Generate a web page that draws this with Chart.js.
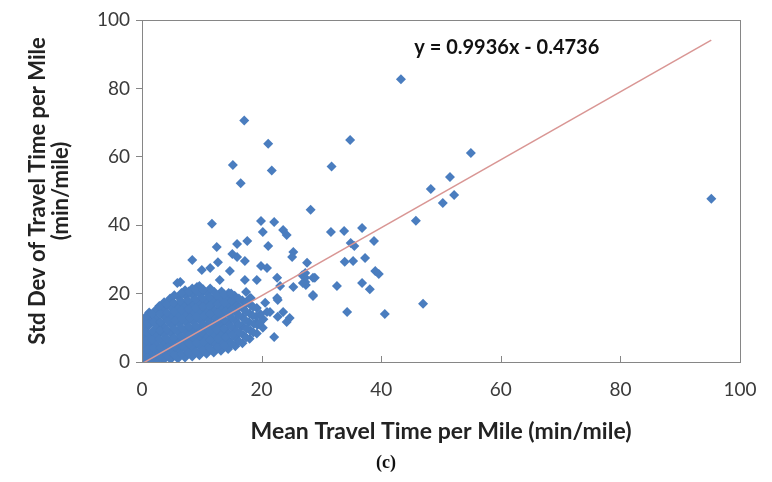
<!DOCTYPE html>
<html lang="en">
<head>
  <meta charset="UTF-8" />
  <title>Std Dev vs Mean Travel Time per Mile</title>
  <script src="https://cdn.jsdelivr.net/npm/chart.js"></script>
  <style>
    body {
      margin: 0;
      background: #fff;
    }
    #wrap {
      position: relative;
      width: 772px;
      height: 482px;
    }
    #caption {
      position: absolute;
      left: 0;
      width: 772px;
      top: 452px;
      text-align: center;
      font: bold 18px "Liberation Serif", serif;
      color: #111;
    }
  </style>
</head>
<body>
  <div id="wrap">
    <canvas id="scatterChart" width="772" height="482"></canvas>
    <div id="caption">(c)</div>
  </div>

  <script>
    // mean travel time per mile (min/mile)
    const meanTime = [
      // sparse outliers
      43.3, 17.1, 21.1, 34.8, 15.2, 21.7, 31.7, 16.5, 55.0, 51.5, 48.3, 52.2, 95.2,
      28.2, 50.3, 45.8, 31.6, 33.8, 36.8, 34.9, 35.5, 38.8, 27.6, 33.9, 35.3, 37.3,
      39.0, 39.6, 26.8, 27.3, 28.9, 27.4, 32.6, 36.8, 38.1, 28.6, 34.3, 40.6, 47.0,
      // fringe of the cluster
      11.7, 19.9, 22.1, 20.2, 23.6, 24.2, 17.6, 12.5, 15.9, 21.1, 25.3, 15.1, 15.9,
      17.2, 25.1, 8.4, 12.7, 11.4, 10.0, 19.9, 20.9, 14.7, 13.0, 17.2, 19.2, 22.6,
      27.3, 28.6, 27.3, 5.9, 9.2, 23.1, 25.3, 26.9, 17.4, 18.2, 28.6, 20.6, 22.6,
      20.9, 22.7, 24.7, 23.6, 22.1, 19.2, 3.3, 1.7, 6.4, 22.7, 24.2, 21.4,
      // dense cluster near the origin
      0.3, 0.4, 0.2, 0.5, 0.3, 0.4,
      1.2, 1.1, 1.3, 1.2, 1.0, 1.3, 1.2,
      2.4, 2.5, 2.3, 2.4, 2.6, 2.4, 2.3,
      3.6, 3.5, 3.7, 3.6, 3.5, 3.8, 3.6, 3.7,
      4.8, 4.9, 4.7, 4.8, 5.0, 4.8, 4.9, 4.7,
      6.0, 6.1, 5.9, 6.0, 6.2, 6.0, 5.9, 6.1,
      7.2, 7.3, 7.1, 7.2, 7.4, 7.2, 7.1, 7.3, 7.2,
      8.4, 8.5, 8.3, 8.4, 8.6, 8.4, 8.3, 8.5, 8.4,
      9.6, 9.7, 9.5, 9.6, 9.8, 9.6, 9.5, 9.7, 9.6,
      10.8, 10.9, 10.7, 10.8, 11.0, 10.8, 10.7, 10.9,
      12.0, 12.1, 11.9, 12.0, 12.2, 12.0, 11.9, 12.1,
      13.2, 13.3, 13.1, 13.2, 13.4, 13.2, 13.1, 13.3,
      14.4, 14.5, 14.3, 14.4, 14.6, 14.4, 14.3, 14.5,
      15.6, 15.7, 15.5, 15.6, 15.8, 15.6, 15.5,
      16.8, 16.9, 16.7, 16.8, 17.0, 16.8,
      18.0, 18.1, 17.9, 18.0, 18.2, 18.0,
      19.2, 19.3, 19.1, 19.2,
      20.2, 20.3,
      // cluster, points lying between the ones above
      0.8, 0.9, 0.7, 0.8, 0.9, 0.8,
      1.8, 1.9, 1.7, 1.8, 1.9, 1.8,
      3.0, 3.1, 2.9, 3.0, 3.1, 3.0, 2.9,
      4.2, 4.3, 4.1, 4.2, 4.3, 4.2, 4.1,
      5.4, 5.5, 5.3, 5.4, 5.5, 5.4, 5.3, 5.4,
      6.6, 6.7, 6.5, 6.6, 6.7, 6.6, 6.5, 6.6,
      7.8, 7.9, 7.7, 7.8, 7.9, 7.8, 7.7, 7.8,
      9.0, 9.1, 8.9, 9.0, 9.1, 9.0, 8.9, 9.0,
      10.2, 10.3, 10.1, 10.2, 10.3, 10.2, 10.1, 10.2,
      11.4, 11.5, 11.3, 11.4, 11.5, 11.4, 11.3, 11.4,
      12.6, 12.7, 12.5, 12.6, 12.7, 12.6, 12.5,
      13.8, 13.9, 13.7, 13.8, 13.9, 13.8, 13.7,
      15.0, 15.1, 14.9, 15.0, 15.1, 15.0, 14.9,
      16.2, 16.3, 16.1, 16.2, 16.3, 16.2,
      17.4, 17.5, 17.3, 17.4, 17.5,
      18.6, 18.7, 18.5, 18.6,
      19.7, 19.8
    ];

    // std dev of travel time per mile (min/mile), same order as meanTime
    const stdDev = [
      82.7, 70.6, 63.8, 64.9, 57.6, 56.0, 57.2, 52.3, 61.1, 54.1, 50.6, 48.8, 47.7,
      44.5, 46.5, 41.3, 38.0, 38.3, 39.2, 34.8, 33.9, 35.4, 29.0, 29.3, 29.5, 30.4,
      26.6, 25.7, 25.4, 24.6, 24.6, 22.5, 22.2, 23.1, 21.3, 19.3, 14.6, 14.0, 17.0,
      40.4, 41.2, 40.9, 38.0, 38.6, 37.1, 35.4, 33.6, 34.5, 33.9, 32.2, 31.6, 30.7,
      29.5, 30.7, 29.8, 29.2, 27.5, 26.9, 28.1, 27.5, 26.6, 24.0, 24.0, 24.0, 24.6,
      26.0, 24.6, 23.4, 23.1, 21.9, 22.2, 21.9, 23.1, 20.5, 18.7, 19.6, 17.3, 18.7,
      14.6, 13.2, 12.9, 14.6, 7.3, 11.4, 16.1, 13.2, 23.4, 18.1, 11.7, 14.6,
      0.2, 2.5, 5.0, 7.5, 10.0, 12.5,
      0.5, 3.0, 5.5, 8.0, 10.5, 13.0, 14.5,
      0.3, 2.8, 5.2, 7.7, 10.2, 12.6, 15.2,
      0.6, 3.1, 5.6, 8.2, 10.7, 13.2, 15.8, 17.5,
      0.8, 3.3, 5.8, 8.4, 10.9, 13.5, 16.0, 18.6,
      1.0, 3.5, 6.1, 8.6, 11.2, 13.7, 16.3, 19.0,
      1.3, 3.9, 6.4, 9.0, 11.5, 14.1, 16.6, 19.4, 21.0,
      1.6, 4.2, 6.7, 9.3, 11.8, 14.4, 16.9, 19.5, 21.5,
      2.0, 4.5, 7.1, 9.6, 12.1, 14.7, 17.2, 19.8, 22.2,
      2.4, 4.9, 7.4, 10.0, 12.5, 15.0, 17.6, 20.2,
      2.8, 5.3, 7.8, 10.4, 12.9, 15.4, 18.0, 20.5,
      3.3, 5.8, 8.3, 10.8, 13.3, 15.9, 18.4, 20.6,
      3.8, 6.3, 8.8, 11.3, 13.8, 16.3, 18.8, 20.2,
      4.6, 7.0, 9.5, 12.0, 14.5, 17.0, 19.4,
      5.5, 8.0, 10.5, 13.0, 15.5, 18.0,
      6.8, 9.2, 11.7, 14.2, 16.6, 18.6,
      8.3, 10.8, 13.3, 15.8,
      10.0, 12.5,
      1.3, 3.8, 6.3, 8.8, 11.3, 13.5,
      1.6, 4.1, 6.6, 9.1, 11.6, 14.0,
      1.7, 4.2, 6.7, 9.2, 11.7, 14.2, 16.4,
      1.9, 4.4, 6.9, 9.5, 12.0, 14.5, 17.0,
      2.1, 4.6, 7.1, 9.7, 12.2, 14.8, 17.3, 19.5,
      2.4, 4.9, 7.5, 10.0, 12.6, 15.1, 17.8, 20.2,
      2.7, 5.3, 7.8, 10.4, 12.9, 15.5, 18.0, 20.6,
      3.1, 5.6, 8.2, 10.7, 13.3, 15.8, 18.4, 21.0,
      3.5, 6.0, 8.6, 11.1, 13.6, 16.2, 18.7, 21.3,
      3.9, 6.4, 9.0, 11.5, 14.0, 16.6, 19.1, 21.5,
      4.3, 6.8, 9.4, 11.9, 14.4, 17.0, 19.5,
      4.8, 7.3, 9.8, 12.3, 14.9, 17.4, 19.8,
      5.4, 7.9, 10.4, 12.9, 15.4, 17.9, 20.0,
      6.1, 8.6, 11.1, 13.6, 16.1, 18.6,
      7.2, 9.7, 12.2, 14.7, 17.2,
      8.6, 11.1, 13.6, 16.1,
      11.5, 14.0
    ];

    // linear trendline end points
    const trendX = [0.3, 95.2];
    const trendY = [-0.2, 94.1];
    const equationText = 'y = 0.9936x - 0.4736';

    const xTicks = [0, 20, 40, 60, 80, 100];
    const yTicks = [0, 20, 40, 60, 80, 100];

    const axisGray = '#868686';
    const labelColor = '#3a3a3a';

    // box round the plot, x ticks pointing in, and the equation label
    const framePlugin = {
      id: 'frame',
      afterDatasetsDraw(chart) {
        const { ctx, chartArea: a, scales } = chart;
        ctx.save();
        ctx.strokeStyle = axisGray;
        ctx.lineWidth = 1;
        ctx.strokeRect(a.left + 0.5, a.top + 0.5, a.right - a.left, a.bottom - a.top);
        ctx.beginPath();
        xTicks.forEach(v => {
          const px = Math.round(scales.x.getPixelForValue(v)) + 0.5;
          ctx.moveTo(px, a.bottom);
          ctx.lineTo(px, a.bottom - 6);
        });
        ctx.stroke();
        ctx.fillStyle = '#111';
        ctx.font = 'bold 20px Lato';
        ctx.textAlign = 'center';
        ctx.textBaseline = 'middle';
        ctx.fillText(equationText, scales.x.getPixelForValue(61.0), scales.y.getPixelForValue(92));
        ctx.restore();
      }
    };

    const ctx = document.getElementById('scatterChart').getContext('2d');
    new Chart(ctx, {
      type: 'scatter',
      data: {
        datasets: [
          {
            type: 'line',
            label: 'Linear fit',
            data: trendX.map((x, i) => ({ x, y: trendY[i] })),
            borderColor: '#d99694',
            borderWidth: 1.5,
            pointRadius: 0,
            fill: false
          },
          {
            label: 'Segments',
            data: meanTime.map((x, i) => ({ x, y: stdDev[i] })),
            pointStyle: 'rectRot',
            pointRadius: 5,
            backgroundColor: '#4a7dbf',
            borderColor: '#4a7dbf',
            borderWidth: 0
          }
        ]
      },
      options: {
        responsive: false,
        animation: false,
        layout: { padding: { top: 20, right: 32, left: 0, bottom: 0 } },
        plugins: {
          legend: { display: false },
          tooltip: { enabled: false }
        },
        scales: {
          x: {
            type: 'linear',
            min: 0,
            max: 100,
            afterBuildTicks: s => { s.ticks = xTicks.map(v => ({ value: v })); },
            afterFit: s => { s.height = 120; },
            grid: { display: false },
            border: { display: true, color: axisGray },
            ticks: { color: labelColor, font: { family: 'Lato', size: 19 }, padding: 8, maxRotation: 0 },
            title: {
              display: true,
              text: 'Mean Travel Time per Mile (min/mile)',
              color: '#222',
              font: { family: 'Lato', size: 23, weight: 'bold', lineHeight: 1.05 },
              padding: { top: 0, bottom: 38 }
            }
          },
          y: {
            type: 'linear',
            min: 0,
            max: 100,
            afterBuildTicks: s => { s.ticks = yTicks.map(v => ({ value: v })); },
            afterFit: s => { s.width = 142; },
            grid: { drawOnChartArea: false, drawTicks: true, tickLength: 6, color: axisGray },
            border: { display: true, color: axisGray },
            ticks: { color: labelColor, font: { family: 'Lato', size: 19 }, padding: 6 },
            title: {
              display: true,
              text: ['Std Dev of Travel Time per Mile', '(min/mile)'],
              color: '#222',
              font: { family: 'Lato', size: 22, weight: 'bold', lineHeight: 1.05 },
              padding: { top: 26, bottom: 0 }
            }
          }
        }
      },
      plugins: [framePlugin]
    });
  </script>
</body>
</html>
